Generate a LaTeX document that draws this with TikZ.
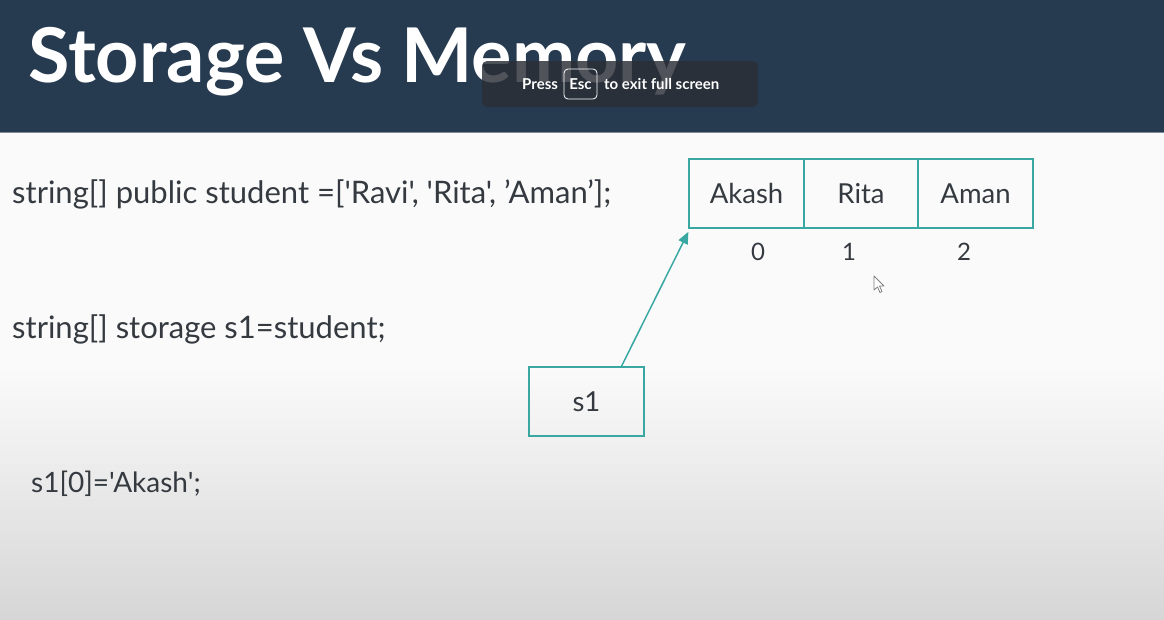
\documentclass[tikz,border=0pt]{standalone}
\usepackage{fontspec}
\setmainfont{Lato}
\newfontfamily\lato{Lato}[Ligatures=TeXOff]
\usetikzlibrary{arrows.meta,calc}
\definecolor{navy}{HTML}{263A50}
\definecolor{tealc}{HTML}{3AA8A2}
\definecolor{txt}{HTML}{343A40}
\definecolor{toastc}{HTML}{2A2E36}
\begin{document}
\begin{tikzpicture}[x=1pt,y=-1pt,
  cell/.style={draw=tealc, line width=1.5pt, minimum width=114.7pt, minimum height=69pt, inner sep=0pt, text=txt, font=\lato\fontsize{27.5}{32}\selectfont},
  idx/.style={inner sep=0pt, text=txt, font=\lato\fontsize{24}{28}\selectfont},
  code/.style={anchor=base west, inner sep=0pt, text=txt, font=\lato\fontsize{31}{36}\selectfont},
  toasttext/.style={anchor=base west, inner sep=0pt, text=white, font=\lato\bfseries\fontsize{15}{18}\selectfont}]
\useasboundingbox (0,0) rectangle (1164,619);
\fill[white!98!black] (0,0) rectangle (1164,619);
\shade[top color=white!98!black, bottom color=white!84!black] (0,370) rectangle (1164,619);
\fill[navy] (0,0) rectangle (1164,132);
\draw[color=navy!60!white, line width=1pt] (0,132.5) -- (1164,132.5);
\node[anchor=base west, inner sep=0pt, text=white, font=\lato\fontseries{k}\selectfont\fontsize{75.5}{82}\selectfont] (title) at (28,82) {\bfseries Storage Vs Memory};
% full screen toast
\node[fill=toastc, fill opacity=0.82, rounded corners=5pt, minimum width=276pt, minimum height=46pt] (toast) at (620,84) {};
\node[toasttext] (press) at (522,89) {Press};
\node[draw=white, line width=0.8pt, rounded corners=4pt, minimum width=33pt, minimum height=30pt, inner sep=0pt, text=white, font=\lato\bfseries\fontsize{15}{18}\selectfont] (esc) at (580.5,84) {Esc};
\node[toasttext] (exit) at (604,89) {to exit full screen};
% code
\node[code] (l1) at (12,203) {string[] public student =['Ravi', 'Rita', ’Aman’];};
\node[code] (l2) at (12,338) {string[] storage s1=student;};
\node[code, font=\lato\fontsize{28}{34}\selectfont] (l3) at (31,492) {s1[0]='Akash';};
% array
\node[cell] (akash) at (746.5,193.5) {Akash};
\node[cell] (rita) at (861,193.5) {Rita};
\node[cell] (aman) at (975.5,193.5) {Aman};
\node[idx] (i0) at (758,252) {0};
\node[idx] (i1) at (849,252) {1};
\node[idx] (i2) at (964,252) {2};
% s1
\node[cell, minimum width=115pt] (s1) at (586.5,401.5) {s1};
\draw[tealc, line width=1.5pt, -{Triangle[length=12pt,width=10pt]}] ([xshift=35pt]s1.north) -- ([yshift=-3pt]akash.south west);
% mouse cursor
\draw[gray, fill=white, line width=0.8pt, line join=round] (874,276) -- (874,290) -- (877.5,287) -- (880,292.5) -- (882,291.5) -- (879.5,286) -- (884,286) -- cycle;
\end{tikzpicture}
\end{document}
